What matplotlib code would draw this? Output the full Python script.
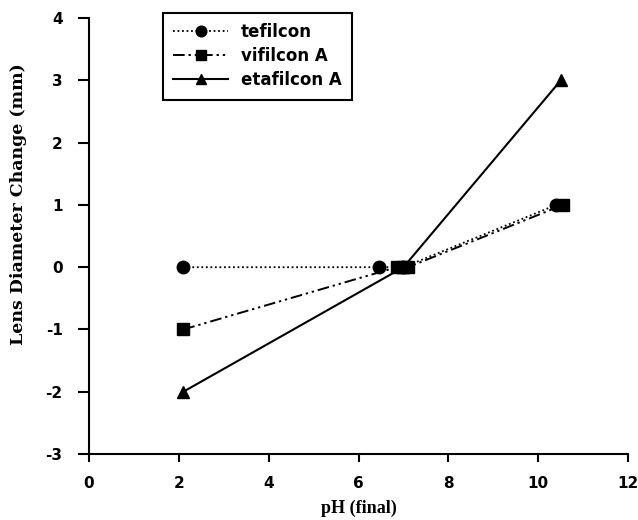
import matplotlib
matplotlib.use("Agg")
import matplotlib.pyplot as plt

# data
ph_tefilcon = [2.1, 6.45, 7.0, 10.4]
dd_tefilcon = [0, 0, 0, 1]

ph_vifilcon = [2.1, 6.85, 7.0, 7.1, 10.55]
dd_vifilcon = [-1, 0, 0, 0, 1]

ph_etafilcon = [2.1, 7.0, 10.5]
dd_etafilcon = [-2, 0, 3]

xticks = [0, 2, 4, 6, 8, 10, 12]
yticks = [-3, -2, -1, 0, 1, 2, 3, 4]

sans = "DejaVu Sans"
serif = "Liberation Serif"

fig = plt.figure(figsize=(6.38, 5.2), dpi=100)
ax = fig.add_axes([0.1395, 0.127, 0.845, 0.838])

ax.plot(ph_tefilcon, dd_tefilcon, linestyle=(0, (1, 1.5)), color="black", lw=1.3,
        marker="o", markersize=9, label="tefilcon")
ax.plot(ph_vifilcon, dd_vifilcon, linestyle=(0, (6, 2, 1.2, 2, 1.2, 2)), color="black", lw=1.4,
        marker="s", markersize=8, label="vifilcon A")
ax.plot(ph_etafilcon, dd_etafilcon, linestyle="-", color="black", lw=1.5,
        marker="^", markersize=9, label="etafilcon A")

ax.set_xlim(0, 12)
ax.set_ylim(-3, 4)
ax.set_xticks(xticks)
ax.set_yticks(yticks)
ax.set_xticklabels([str(t) for t in xticks])
ax.set_yticklabels([str(t) for t in yticks])
ax.spines["top"].set_visible(False)
ax.spines["right"].set_visible(False)
ax.spines["left"].set_linewidth(1.5)
ax.spines["bottom"].set_linewidth(1.5)
ax.tick_params(axis="y", direction="out", length=8, width=1.5, pad=11)
ax.tick_params(axis="x", direction="out", length=6, width=1.5, pad=10)
for lab in ax.get_xticklabels() + ax.get_yticklabels():
    lab.set_fontfamily(sans)
    lab.set_fontweight("bold")
    lab.set_fontsize(11)

ax.set_xlabel("pH (final)", fontfamily=serif, fontweight="bold", fontsize=13, labelpad=6)
ax.set_ylabel("Lens Diameter Change (mm)", fontfamily="DejaVu Serif", fontweight="bold", fontsize=12.5)
ax.yaxis.set_label_coords(-0.115, 0.573)

leg = ax.legend(loc="upper left", bbox_to_anchor=(163 / 638, 1 - 13 / 520),
                bbox_transform=fig.transFigure, borderaxespad=0, frameon=True, fancybox=False,
                edgecolor="black", framealpha=1, handlelength=3.3, handletextpad=0.75,
                borderpad=0.62, labelspacing=0.36, markerscale=0.85,
                prop={"family": sans, "weight": "bold", "size": 12})
leg.get_frame().set_linewidth(1.5)

fig.savefig("out.png", dpi=100)
